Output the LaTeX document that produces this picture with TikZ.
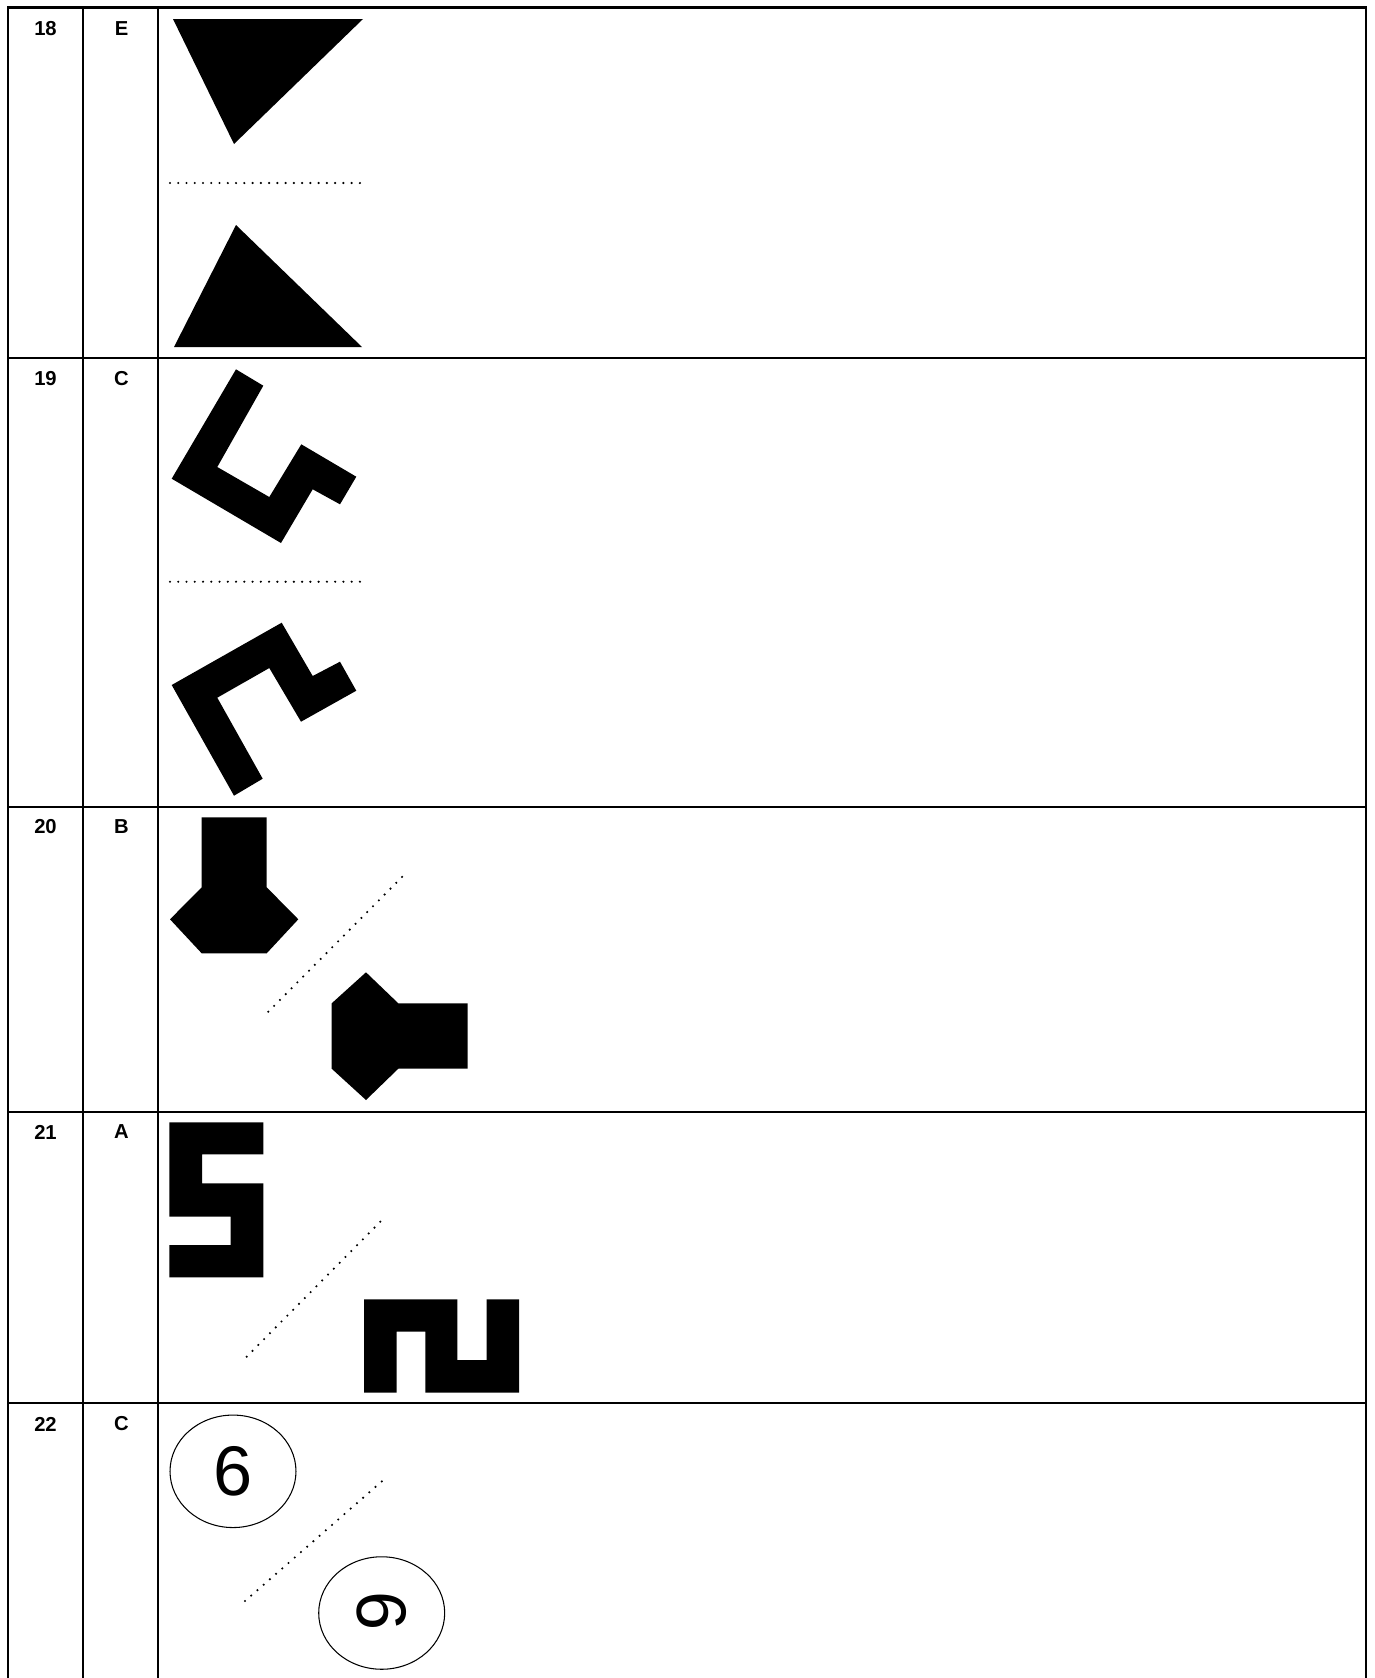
\documentclass[tikz,border=0pt]{standalone}
\usepackage{fontspec}
\setmainfont{Liberation Sans}
\usetikzlibrary{shapes.geometric}

\begin{document}
\begin{tikzpicture}[x=0.02cm,y=-0.02cm,
  rule/.style={line width=1.15pt},
  sep/.style={line width=1.35pt,line cap=round,dash pattern=on 0pt off 4.7pt},
  lbl/.style={font=\bfseries\fontsize{11.5}{13}\selectfont},
  oval/.style={ellipse,draw,line width=0.6pt,minimum width=2.52cm,minimum height=2.25cm,inner sep=0pt,font=\fontsize{40}{44}\selectfont}]
\useasboundingbox (0,0) rectangle (1375,1678);

% Table grid
\draw[rule] (8,1678) -- (8,7.5) -- (1366,7.5) -- (1366,1678);
\draw[rule] (83,7.5) -- (83,1678);
\draw[rule] (158,7.5) -- (158,1678);
\foreach \y in {358,806.5,1111.5,1403}
  \draw[rule] (8,\y) -- (1366,\y);

% Row labels
\foreach \n/\a/\y in {18/E/29,19/C/379,20/B/827,21/A/1132,22/C/1424} {
  \node[lbl] (num\n) at (45.5,\y) {\n};
  \node[lbl] (key\n) at (121.5,\y) {\a};
}

% Row 18: triangles
\fill (173,19) -- (363,19) -- (234,144) -- cycle;
\draw[sep] (170,183) -- (362,183);
\fill (236,225) -- (362,347) -- (174,347) -- cycle;

% Row 19: hooks
\fill (236,369.3) -- (263.3,385.7) -- (217.3,467) -- (269.3,497) -- (301.3,444.3)
  -- (356.3,476.7) -- (340,504.3) -- (312.7,489.3) -- (281,543) -- (171.7,478.7) -- cycle;
\draw[sep] (170,581.7) -- (360,581.7);
\fill (281.7,622.7) -- (312.7,676) -- (340,661.7) -- (356.3,690.7) -- (301,721.7)
  -- (269.3,668) -- (217.3,697.7) -- (262.7,778.7) -- (234,795.7) -- (171.7,685) -- cycle;

% Row 20: hexagons with bars
\fill (201.7,817.3) -- (266.7,817.3) -- (266.7,887.3) -- (298.3,919.3) -- (266.7,953.3)
  -- (201.7,953.3) -- (170,919.3) -- (201.7,887.3) -- cycle;
\draw[sep] (268.3,1011.7) -- (403.3,875.7);
\fill (366,972.3) -- (398.3,1003.3) -- (467.7,1003.3) -- (467.7,1068.7) -- (398.3,1068.7)
  -- (366,1100) -- (331.7,1068.7) -- (331.7,1003.3) -- cycle;

% Row 21: meanders
\fill (169.3,1122.3) -- (263.3,1122.3) -- (263.3,1154.3) -- (202,1154.3) -- (202,1183.3)
  -- (263.3,1183.3) -- (263.3,1277.3) -- (169.3,1277.3) -- (169.3,1245) -- (230.7,1245)
  -- (230.7,1216.7) -- (169.3,1216.7) -- cycle;
\draw[sep] (246.7,1356.7) -- (381,1221);
\fill (364,1299.3) -- (457.3,1299.3) -- (457.3,1360) -- (486.7,1360) -- (486.7,1299.3)
  -- (519,1299.3) -- (519,1392.7) -- (425.3,1392.7) -- (425.3,1331.7) -- (396.7,1331.7)
  -- (396.7,1392.7) -- (364,1392.7) -- cycle;

% Row 22: digits in ovals
\node[oval] (six) at (233,1471.3) {6};
\draw[sep] (245,1601) -- (386,1477.7);
\node[oval] (sixturned) at (381.7,1613) {\rotatebox[origin=c]{-90}{6}};
\end{tikzpicture}
\end{document}
